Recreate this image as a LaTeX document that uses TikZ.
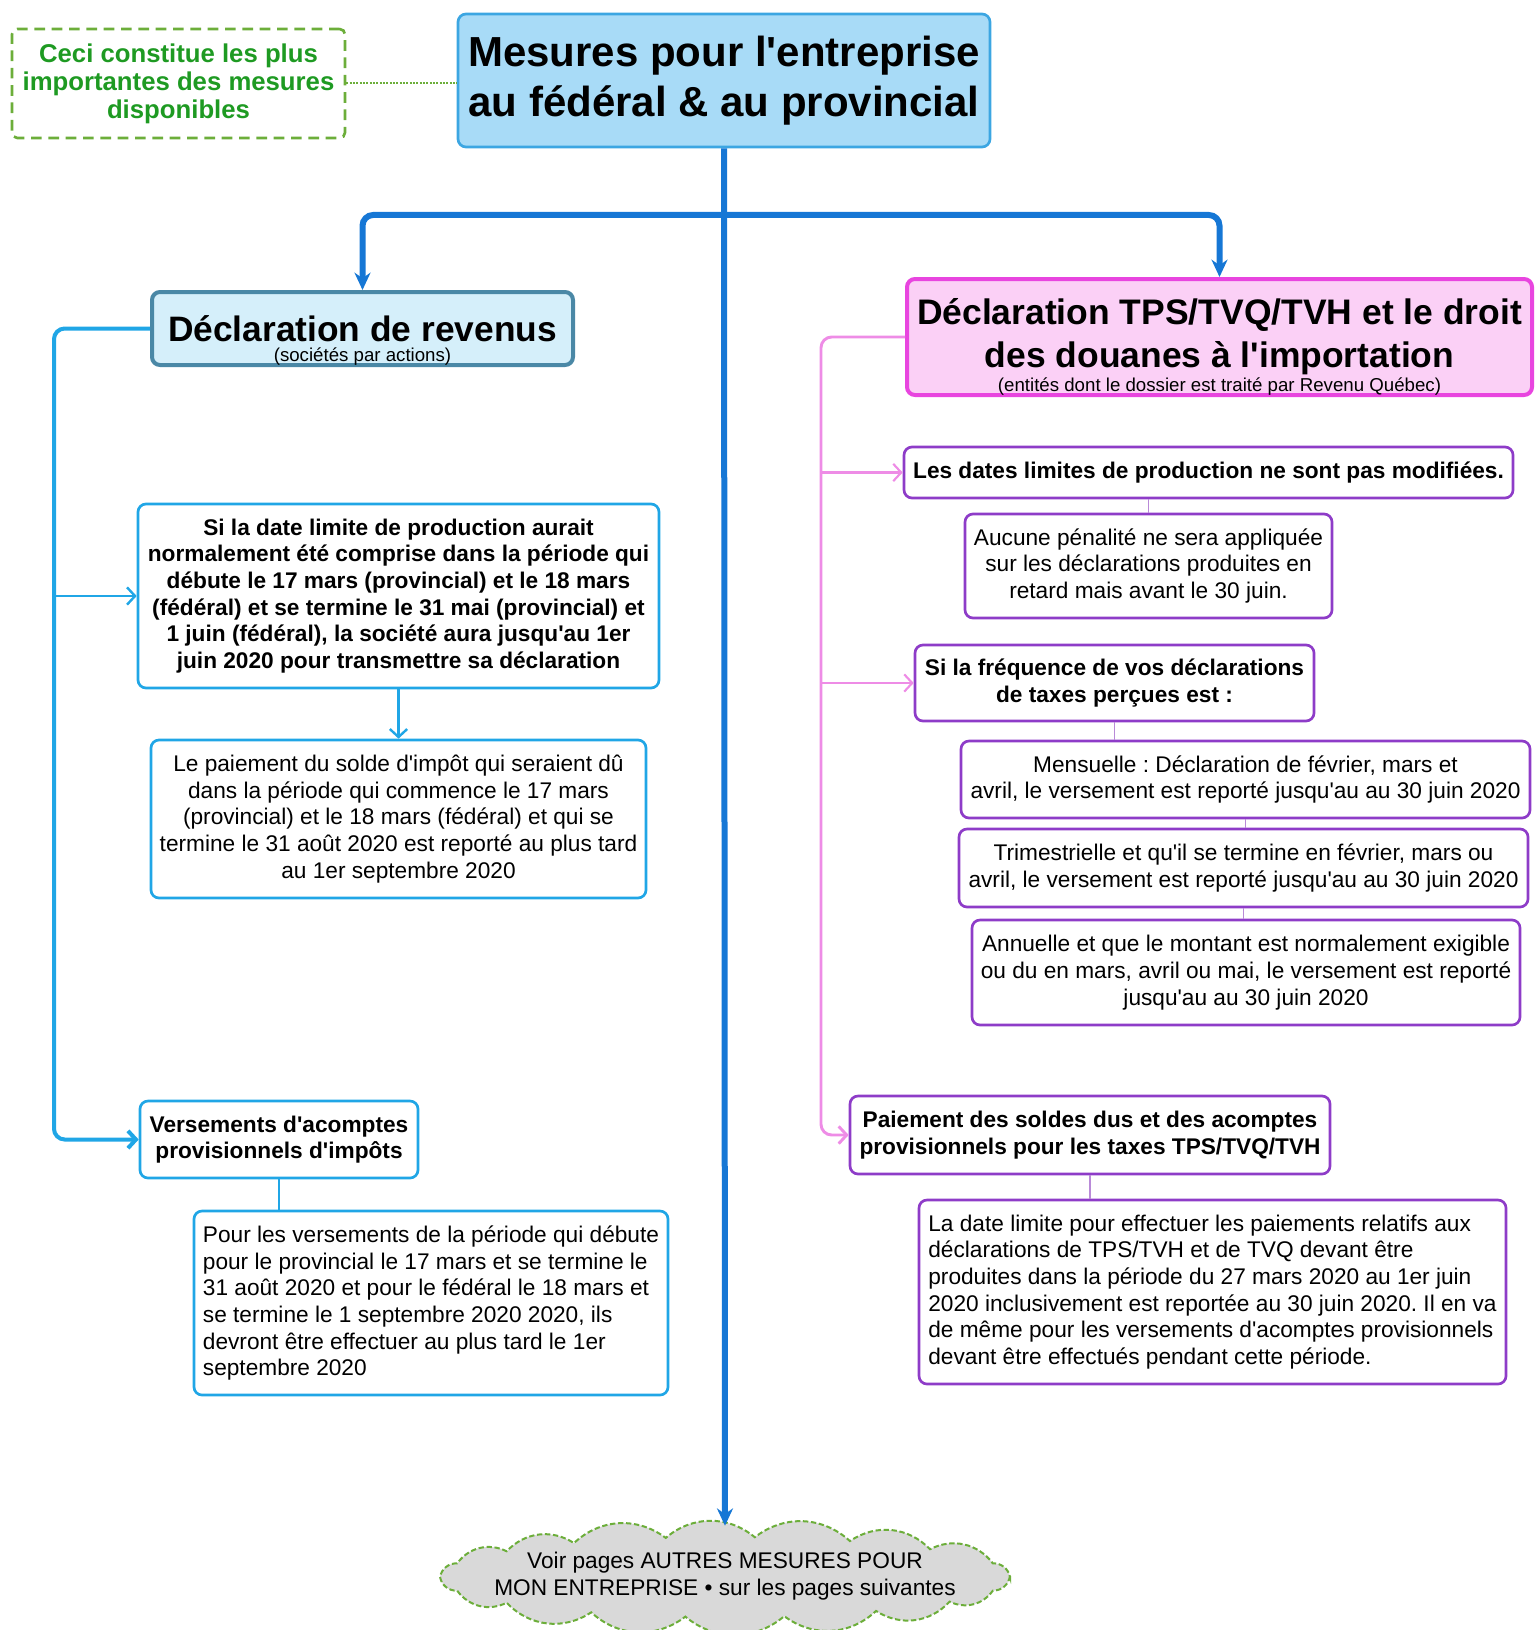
\documentclass[tikz,border=0pt]{standalone}
\usepackage{fontspec}
\setmainfont{Liberation Sans}[Ligatures=TeXOff]
\usetikzlibrary{arrows.meta}
\definecolor{trunkblue}{HTML}{1677D5}
\definecolor{skyline}{HTML}{20A6E6}
\definecolor{titlefill}{HTML}{A8DBF7}
\definecolor{titleline}{HTML}{3CA6E2}
\definecolor{revfill}{HTML}{D5EFFA}
\definecolor{revline}{HTML}{4A88A6}
\definecolor{taxfill}{HTML}{FBD0F6}
\definecolor{taxline}{HTML}{E845DF}
\definecolor{pinkline}{HTML}{EE8CE6}
\definecolor{purpline}{HTML}{8E3CC8}
\definecolor{purplink}{HTML}{B98AD8}
\definecolor{noteline}{HTML}{6CAE3A}
\definecolor{notetext}{HTML}{1E9A22}
\definecolor{cloudfill}{HTML}{D9D9D9}
\AtBeginDocument{\frenchspacing}
\begin{document}
\begin{tikzpicture}[x=0.75pt,y=-0.75pt,
    every node/.style={align=center,inner sep=3pt},
    boxsize/.style 2 args={minimum width=0.75*#1pt,minimum height=0.75*#2pt},
    body/.style={font=\fontsize{17}{20}\selectfont},
    bodybold/.style={font=\fontsize{17}{20}\selectfont\bfseries},
    subtitle/.style={font=\fontsize{14}{15}\selectfont,anchor=base,inner sep=0pt},
    bluebox/.style={draw=skyline,line width=2pt,rounded corners=6pt,fill=white},
    purplebox/.style={draw=purpline,line width=2pt,rounded corners=6pt,fill=white},
    trunk/.style={trunkblue,line width=4.5pt,-{Stealth[length=13pt,width=12pt]}},
    skyspine/.style={skyline,line width=3pt,-{Straight Barb[length=6pt,width=13pt]}},
    skybranch/.style={skyline,line width=1.8pt,-{Straight Barb[length=6pt,width=13pt]}},
    pinkspine/.style={pinkline,line width=2.2pt,-{Straight Barb[length=6pt,width=13pt]}},
    pinkbranch/.style={pinkline,line width=1.6pt,-{Straight Barb[length=6pt,width=13pt]}},
    purpline/.style={purplink,line width=1.2pt}]
  \useasboundingbox (0,0) rectangle (1534,1630);

  \node[draw=titleline,fill=titlefill,line width=2pt,rounded corners=6pt,boxsize={532}{133},
    font=\fontsize{31.5}{38}\selectfont\bfseries] (title) at (724,80.5)
    {Mesures pour l'entreprise\\au fédéral \& au provincial};
  \node[draw=noteline,dashed,dash pattern=on 8pt off 5pt,line width=2pt,rounded corners=4pt,
    boxsize={333}{109},text=notetext,font=\fontsize{19.3}{21}\selectfont\bfseries] (note) at (178.5,83.5)
    {Ceci constitue les plus\\importantes des mesures\\disponibles};

  \node[draw=revline,fill=revfill,line width=3pt,rounded corners=6pt,boxsize={421}{73},
    font=\fontsize{26.5}{30}\selectfont\bfseries] (lhead) at (362.5,328.5) {Déclaration de revenus};
  \node[subtitle] (lheadsub) at ([yshift=4.5pt]lhead.south |- 0,367) {(sociétés par actions)};
  \node[draw=taxline,fill=taxfill,line width=3pt,rounded corners=6pt,boxsize={625}{116},
    font=\fontsize{26.6}{32}\selectfont\bfseries] (rhead) at (1219.5,337)
    {Déclaration TPS/TVQ/TVH et le droit\\des douanes à l'importation};
  \node[subtitle] (rheadsub) at ([yshift=4pt]rhead.south) {(entités dont le dossier est traité par Revenu Québec)};

  \node[bluebox,bodybold,boxsize={521}{184}] (datebox) at (398.5,596)
    {Si la date limite de production aurait\\normalement été comprise dans la période qui\\%
     débute le 17 mars (provincial) et le 18 mars\\(fédéral) et se termine le 31 mai (provincial) et\\%
     1 juin (fédéral), la société aura jusqu'au 1er\\juin 2020 pour transmettre sa déclaration};
  \node[bluebox,body,boxsize={495}{158}] (paybox) at (398.5,819)
    {Le paiement du solde d'impôt qui seraient dû\\dans la période qui commence le 17 mars\\%
     (provincial) et le 18 mars (fédéral) et qui se\\termine le 31 août 2020 est reporté au plus tard\\%
     au 1er septembre 2020};
  \node[bluebox,bodybold,boxsize={278}{77}] (vers) at (279,1139.5)
    {Versements d'acomptes\\provisionnels d'impôts};
  \node[bluebox,body,align=left,boxsize={474}{184}] (acpt) at (431,1303)
    {Pour les versements de la période qui débute\\pour le provincial le 17 mars et se termine le\\%
     31 août 2020 et pour le fédéral le 18 mars et\\se termine le 1 septembre 2020 2020, ils\\%
     devront être effectuer au plus tard le 1er\\septembre 2020};

  \node[purplebox,bodybold,boxsize={609}{51}] (nochange) at (1208.5,472.5)
    {Les dates limites de production ne sont pas modifiées.};
  \node[purplebox,body,boxsize={367}{104}] (penal) at (1148.5,566)
    {Aucune pénalité ne sera appliquée\\sur les déclarations produites en\\retard mais avant le 30 juin.};
  \node[purplebox,bodybold,boxsize={399}{76}] (freq) at (1114.5,683)
    {Si la fréquence de vos déclarations\\de taxes perçues est :};
  \node[purplebox,body,boxsize={569}{77}] (mens) at (1245.5,779.5)
    {Mensuelle : Déclaration de février, mars et\\avril, le versement est reporté jusqu'au au 30 juin 2020};
  \node[purplebox,body,boxsize={569}{78}] (trim) at (1243.5,868)
    {Trimestrielle et qu'il se termine en février, mars ou\\avril, le versement est reporté jusqu'au au 30 juin 2020};
  \node[purplebox,body,boxsize={548}{105}] (annu) at (1246,972.5)
    {Annuelle et que le montant est normalement exigible\\ou du en mars, avril ou mai, le versement est reporté\\%
     jusqu'au au 30 juin 2020};
  \node[purplebox,bodybold,boxsize={480}{78}] (soldes) at (1090,1135)
    {Paiement des soldes dus et des acomptes\\provisionnels pour les taxes TPS/TVQ/TVH};
  \node[purplebox,body,align=left,boxsize={587}{184}] (delai) at (1212.5,1292)
    {La date limite pour effectuer les paiements relatifs aux\\déclarations de TPS/TVH et de TVQ devant être\\%
     produites dans la période du 27 mars 2020 au 1er juin\\2020 inclusivement est reportée au 30 juin 2020. Il en va\\%
     de même pour les versements d'acomptes provisionnels\\devant être effectués pendant cette période.};

  \filldraw[draw=noteline,fill=cloudfill,line width=1.5pt,dash pattern=on 4pt off 2pt]
    (1010,1576) foreach \a in {20,38,58,78,98,118,140,160,180,200,220,238,258,276,296,316,340,360}
    {to[bend left=40] ({725+285*cos(\a)},{1577+40*sin(\a)})} -- cycle;
  \node[body,boxsize={579}{100}] (more) at (725,1576)
    {Voir pages AUTRES MESURES POUR\\MON ENTREPRISE • sur les pages suivantes};

  \draw[noteline,densely dotted,line width=1.5pt] (note.east) -- (note.east -| title.west);

  \coordinate (fork) at (724,215);
  \draw[trunk] (title.south) -- (more.north);
  \draw[trunk,rounded corners=8pt] (fork) -| (lhead.north);
  \draw[trunk,rounded corners=8pt] (fork) -| (rhead.north);

  \coordinate (lbus) at (54,0);
  \draw[skyspine,rounded corners=8pt] (lhead.west) -| (lbus |- vers.west) -- (vers.west);
  \draw[skybranch] (lbus |- datebox.west) -- (datebox.west);
  \draw[skybranch] (datebox.south) -- (paybox.north);
  \draw[skyline,line width=1.8pt] (vers.south) -- (vers.south |- acpt.north);

  \coordinate (rbus) at (821,0);
  \draw[pinkspine,rounded corners=8pt] (rhead.west) -| (rbus |- soldes.west) -- (soldes.west);
  \draw[pinkbranch] (rbus |- nochange.west) -- (nochange.west);
  \draw[pinkbranch] (rbus |- freq.west) -- (freq.west);
  \draw[purpline] (penal.north |- nochange.south) -- (penal.north);
  \draw[purpline] (freq.south) -- (freq.south |- mens.north);
  \draw[purpline] (mens.south) -- (mens.south |- trim.north);
  \draw[purpline] (trim.south) -- (trim.south |- annu.north);
  \draw[purpline] (soldes.south) -- (soldes.south |- delai.north);
\end{tikzpicture}
\end{document}
